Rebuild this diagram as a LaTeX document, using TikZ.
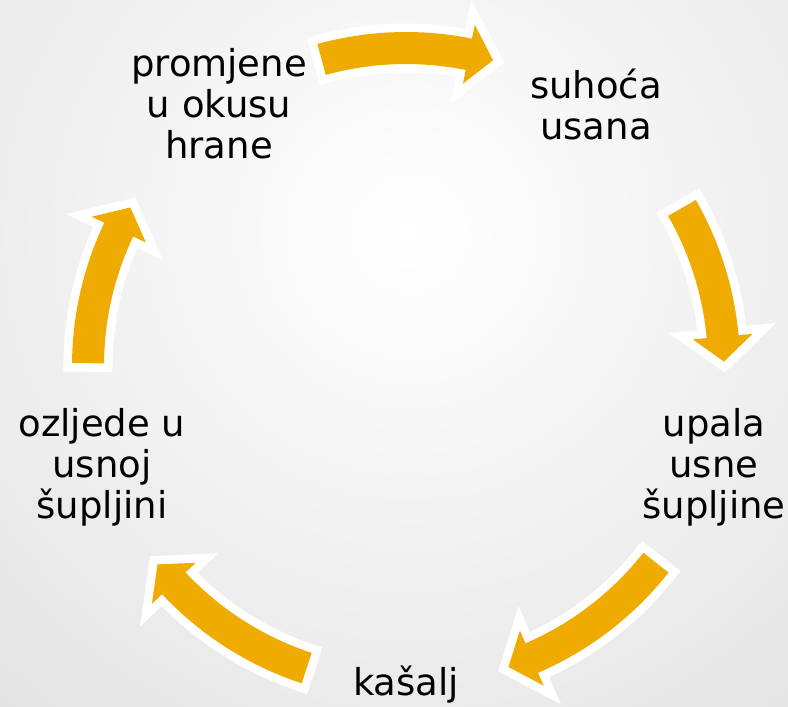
\documentclass[tikz,border=0pt]{standalone}
\usepackage{fontspec}
\setmainfont{DejaVu Sans}
\definecolor{gold}{RGB}{240,171,0}
\definecolor{bgedge}{RGB}{227,227,227}
\tikzset{
  lbl/.style={align=center, inner sep=0pt, text=black, font=\fontsize{37}{41}\selectfont},
  arrowoutline/.style={draw=white, line width=17pt, line join=miter, miter limit=4},
  arrowbody/.style={fill=gold}
}
\newcommand\cyclearrowpath[2]{%
  (#1:334) arc[start angle=#1, end angle={#2+4.5}, radius=334]
  -- ({#2+4.5}:348) -- (#2:318) -- ({#2+4.5}:288) -- ({#2+4.5}:302)
  arc[start angle={#2+4.5}, end angle=#1, radius=302] -- cycle}
\newcommand\cyclearrow[2]{%
  \path[arrowoutline] \cyclearrowpath{#1}{#2};
  \path[arrowbody] \cyclearrowpath{#1}{#2};}
\begin{document}
\begin{tikzpicture}[x=1pt,y=1pt]
  \useasboundingbox (0,0) rectangle (788,-707);
  \begin{scope}
    \clip (0,0) rectangle (788,-707);
    \shade[inner color=white, outer color=bgedge] (410,-233) circle (650);
  \end{scope}
  \begin{scope}[shift={(406,-366)}]
    \cyclearrow{105.4}{74.1}
    \cyclearrow{29.8}{0.8}
    \cyclearrow{-38.2}{-71.2}
    \cyclearrow{-108.2}{-141.4}
    \cyclearrow{179.5}{150.1}
  \end{scope}
  \node[lbl] (promjene) at (219,-104) {promjene\\u okusu\\hrane};
  \node[lbl] (suhoca) at (596,-104) {suhoća\\usana};
  \node[lbl] (upala) at (714,-467) {upala\\usne\\šupljine};
  \node[lbl] (kasalj) at (406,-685) {kašalj};
  \node[lbl] (ozljede) at (102,-467) {ozljede u\\usnoj\\šupljini};
\end{tikzpicture}
\end{document}
